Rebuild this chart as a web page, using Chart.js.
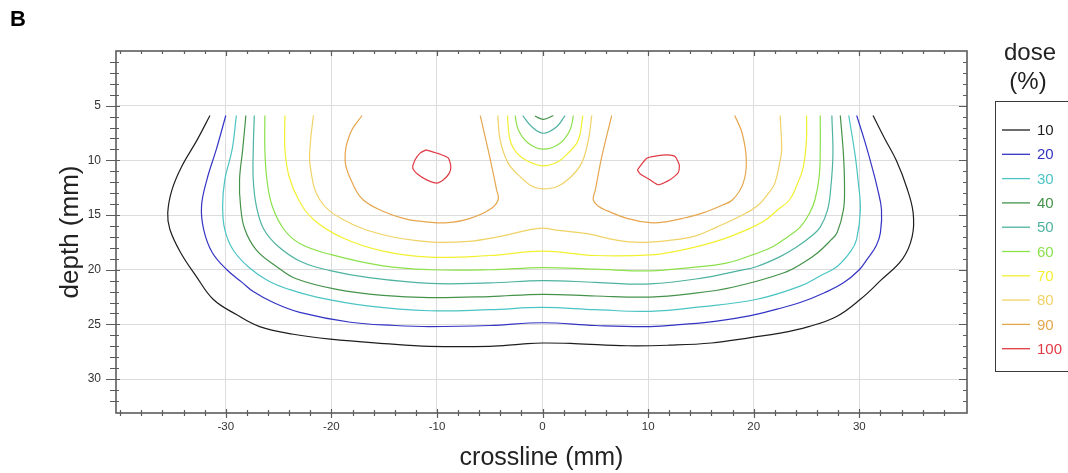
<!DOCTYPE html>
<html>
<head>
<meta charset="utf-8">
<script src="https://cdn.jsdelivr.net/npm/chart.js@4.4.1/dist/chart.umd.min.js"></script>
<style>
html,body{margin:0;padding:0;background:#fff;}
#wrap{width:1068px;height:473px;position:relative;}
</style>
</head>
<body>
<div id="wrap"><canvas id="c" width="1068" height="473"></canvas></div>
<script>
// ---- data (x = crossline mm, y = depth mm) ----
const levels = [10, 20, 30, 40, 50, 60, 70, 80, 90, 100];
const levelColors = ['#1e1e1e', '#3434c4', '#4cc4c4', '#45924a', '#4db3a0', '#8ce04c', '#f2f030', '#f0d266', '#e6a64e', '#e03a44'];
const xTickLabels = [-30, -20, -10, 0, 10, 20, 30];
const yTickLabels = [5, 10, 15, 20, 25, 30];
const legendTitle = ['dose', '(%)'];

const c10 = [[-31.5,5.9],[-32.7,8.1],[-34.2,10.6],[-35.1,12.7],[-35.5,14.8],[-35.3,16.3],[-34.3,18.4],[-32.8,20.6],[-31.2,22.7],[-29.0,24.1],[-26.8,25.2],[-23.6,25.9],[-20.1,26.35],[-15.0,26.75],[-10.7,27.0],[-5.0,27.0],[-2.0,26.8],[0,26.7],[3.0,26.75],[8.0,26.95],[12.0,26.9],[16.0,26.7],[19.7,26.2],[22.5,25.8],[25.2,25.2],[27.8,24.3],[30.1,22.7],[32.0,21.0],[34.1,19.0],[35.0,17.0],[35.1,14.8],[34.5,12.5],[33.5,10.0],[32.4,8.0],[31.3,5.9]];
const c20 = [[-30.0,5.9],[-30.9,9.0],[-31.8,11.8],[-32.3,14.2],[-32.1,16.3],[-31.3,18.4],[-29.9,20.0],[-28.4,21.2],[-27.4,22.0],[-25.5,23.0],[-23.0,23.9],[-18.2,24.8],[-14.0,25.1],[-10.7,25.2],[-5.0,25.1],[0,24.85],[5.0,25.1],[10.2,25.2],[13.3,25.0],[16.5,24.7],[19.7,24.2],[22.2,23.6],[24.4,23.0],[26.7,22.1],[28.5,21.2],[30.0,20.0],[30.7,19.1],[31.6,17.8],[32.0,16.6],[32.1,14.5],[31.7,12.5],[31.2,10.6],[30.5,8.2],[29.75,5.9]];
const c30 = [[-29.0,5.9],[-29.4,9.0],[-30.1,11.8],[-30.3,14.2],[-30.1,16.3],[-29.3,18.2],[-27.8,19.8],[-26.0,21.0],[-24.0,21.8],[-21.4,22.5],[-16.6,23.3],[-10.7,23.75],[-5.0,23.65],[0,23.45],[5.0,23.65],[10.2,23.8],[14.9,23.4],[20.3,22.7],[24.4,21.5],[26.4,20.5],[27.9,19.7],[29.2,18.3],[29.75,17.2],[30.1,14.5],[29.9,12.0],[29.6,9.5],[29.0,5.9]];
const c40 = [[-28.1,5.9],[-28.4,9.0],[-28.7,11.8],[-28.6,14.2],[-28.2,16.3],[-27.1,18.2],[-25.2,19.7],[-23.4,20.8],[-19.5,21.8],[-15.1,22.35],[-10.7,22.55],[-5.0,22.45],[0,22.25],[5.0,22.4],[10.2,22.5],[14.0,22.2],[18.0,21.6],[22.8,20.3],[24.8,19.3],[26.0,18.5],[27.3,17.3],[27.9,16.6],[28.5,14.5],[28.6,12.5],[28.5,9.5],[28.2,5.9]];
const c50 = [[-27.3,5.9],[-27.4,9.0],[-27.4,11.8],[-27.1,14.2],[-26.4,16.3],[-25.0,17.9],[-22.8,19.3],[-20.0,20.1],[-16.6,20.7],[-10.7,21.25],[-5.0,21.2],[0,21.0],[5.0,21.15],[10.2,21.3],[15.5,20.7],[18.5,20.1],[20.3,19.7],[22.5,18.8],[24.1,17.9],[25.5,16.9],[26.3,16.1],[27.0,14.5],[27.3,12.5],[27.5,9.5],[27.4,5.9]];
const c50in = [[-1.88,5.9],[-1.02,6.92],[0.08,7.52],[1.34,6.92],[2.13,5.9]];
const c40in = [[-0.71,5.95],[0.08,6.25],[1.02,5.9]];
const c60 = [[-26.3,5.9],[-26.3,9.0],[-26.1,11.8],[-25.6,14.2],[-24.5,16.3],[-23.0,17.6],[-20.1,18.6],[-15.1,19.65],[-10.7,20.0],[-5.0,20.0],[0,19.8],[5.0,19.95],[10.2,20.1],[14.0,19.8],[17.4,19.4],[20.0,18.6],[21.8,17.9],[23.2,17.0],[24.4,16.1],[25.3,14.8],[25.8,13.6],[26.2,11.5],[26.3,9.0],[26.3,5.9]];
const c60in = [[-2.6,5.9],[-2.29,7.22],[-1.34,8.43],[0.08,8.98],[1.66,8.43],[2.6,7.22],[2.92,5.9]];
const c70 = [[-24.4,5.9],[-24.4,9.0],[-24.0,11.5],[-23.1,13.6],[-21.7,15.4],[-18.9,17.1],[-15.1,18.3],[-10.7,18.85],[-5.0,18.7],[0,18.3],[5.0,18.7],[10.2,18.65],[12.7,18.3],[15.0,17.8],[17.1,17.2],[19.2,16.4],[20.9,15.6],[22.3,14.5],[23.4,13.6],[24.2,12.0],[24.7,10.6],[25.0,8.0],[25.0,5.9]];
const c70in = [[-3.33,5.9],[-3.08,8.13],[-2.44,9.32],[-1.34,10.1],[0.08,10.5],[1.5,10.1],[2.44,9.32],[3.39,8.13],[3.81,5.9]];
const c80 = [[-21.7,5.9],[-22.0,8.5],[-22.0,10.6],[-21.1,13.6],[-18.9,15.4],[-15.1,16.8],[-10.7,17.45],[-7.0,17.4],[-4.0,16.95],[-1.5,16.4],[0,16.2],[1.5,16.4],[4.2,16.7],[7.0,17.3],[9.2,17.5],[12.1,17.3],[14.5,16.9],[16.5,16.1],[18.5,15.2],[20.3,14.2],[21.4,13.0],[22.0,12.1],[22.5,10.0],[22.65,9.0],[22.5,5.9]];
const c80in = [[-4.24,5.9],[-4.02,8.13],[-3.27,10.23],[-2.02,11.59],[-0.9,12.41],[0.05,12.6],[1.34,12.41],[2.6,11.59],[3.71,10.23],[4.34,8.13],[4.66,5.9]];
const c90left = [[-17.1,5.9],[-18.2,7.5],[-18.7,10.0],[-18.0,12.1],[-17.0,13.6],[-15.0,14.7],[-13.0,15.35],[-10.7,15.65],[-9.0,15.7],[-7.0,15.35],[-5.0,14.5],[-4.2,13.6],[-4.35,12.7],[-5.0,9.7],[-5.9,5.9]];
const c90right = [[6.55,5.9],[5.6,9.7],[5.0,12.7],[4.8,13.6],[5.3,14.2],[6.1,14.6],[8.0,15.3],[10.2,15.7],[11.8,15.6],[13.5,15.25],[15.2,14.8],[17.0,14.1],[18.0,13.6],[19.0,12.1],[19.3,10.0],[18.9,7.5],[18.2,5.9]];
const c100left = [[-11.03,9.04],[-9.71,9.44],[-8.92,9.8],[-8.69,10.56],[-8.83,11.17],[-9.39,11.78],[-10.02,12.08],[-10.97,11.78],[-11.76,11.32],[-12.29,10.71],[-12.07,9.95],[-11.6,9.34],[-11.03,9.04]];
const c100right = [[8.98,10.87],[9.87,9.8],[10.81,9.59],[11.76,9.5],[12.55,9.65],[12.95,10.41],[12.86,11.11],[12.07,11.78],[10.97,12.23],[10.18,11.78],[9.23,11.23],[8.98,10.87]];

const segments = [
  [10, c10], [20, c20], [30, c30], [40, c40], [40, c40in], [50, c50], [50, c50in],
  [60, c60], [60, c60in], [70, c70], [70, c70in], [80, c80], [80, c80in],
  [90, c90left], [90, c90right], [100, c100left], [100, c100right]
];

const FONT = '"Liberation Sans", Arial, Helvetica, sans-serif';
const colorOf = lv => levelColors[levels.indexOf(lv)];

const datasets = segments.map(([lv, pts]) => ({
  label: String(lv),
  data: pts.map(p => ({x: p[0], y: p[1]})),
  borderColor: colorOf(lv),
  backgroundColor: colorOf(lv),
  borderWidth: 1.2,
  showLine: true,
  pointRadius: 0,
  pointHoverRadius: 0,
  tension: lv === 100 ? 0.2 : 0.4,
  fill: false
}));

const framePlugin = {
  id: 'frameTicks',
  afterDraw(chart) {
    const {ctx, chartArea, scales} = chart;
    const {left, right, top, bottom} = chartArea;
    const x = scales.x, y = scales.y;
    ctx.save();
    ctx.strokeStyle = '#5c5c5c';
    ctx.lineWidth = 1.6;
    ctx.strokeRect(left, top, right - left, bottom - top);
    ctx.lineWidth = 1.2;
    ctx.beginPath();
    x.ticks.forEach(t => {
      const px = Math.round(x.getPixelForValue(t.value)) + 0.5;
      if (px < left + 4 || px > right - 4) return;
      const major = xTickLabels.includes(Math.round(t.value));
      ctx.moveTo(px, bottom - (major ? 4 : 3)); ctx.lineTo(px, bottom + (major ? 5 : 3));
      ctx.moveTo(px, top); ctx.lineTo(px, top + (major ? 5 : 3));
    });
    y.ticks.forEach(t => {
      const py = Math.round(y.getPixelForValue(t.value)) + 0.5;
      if (py < top + 4 || py > bottom - 4) return;
      const major = Math.round(t.value) % 5 === 0;
      ctx.moveTo(left - (major ? 10 : 6), py); ctx.lineTo(left + (major ? 4 : 3), py);
      ctx.moveTo(right - (major ? 8 : 4), py); ctx.lineTo(right, py);
    });
    ctx.stroke();
    ctx.restore();
  }
};

const legendPlugin = {
  id: 'doseLegend',
  afterDraw(chart) {
    const {ctx, chartArea} = chart;
    const bx = chartArea.right + 28;
    const cx = bx + 34;
    ctx.save();
    ctx.fillStyle = '#222';
    ctx.textAlign = 'center';
    ctx.textBaseline = 'middle';
    ctx.font = '24px ' + FONT;
    ctx.fillText(legendTitle[0], cx + 1, chartArea.top + 2);
    ctx.fillText(legendTitle[1], cx - 1, chartArea.top + 31);
    ctx.strokeStyle = '#3a3a3a';
    ctx.lineWidth = 1;
    ctx.strokeRect(Math.round(bx) + 0.5, chartArea.top + 50.5, 110, 270);
    ctx.font = '15px ' + FONT;
    ctx.textAlign = 'left';
    levels.forEach((lv, i) => {
      const yy = chartArea.top + 79 + i * 24.3;
      ctx.strokeStyle = levelColors[i];
      ctx.lineWidth = 1.3;
      ctx.beginPath();
      ctx.moveTo(bx + 7, yy);
      ctx.lineTo(bx + 35, yy);
      ctx.stroke();
      ctx.fillStyle = levelColors[i];
      ctx.fillText(String(lv), bx + 42, yy + 1);
    });
    ctx.restore();
  }
};

new Chart(document.getElementById('c'), {
  type: 'scatter',
  data: {datasets},
  options: {
    responsive: false,
    animation: false,
    events: [],
    layout: {padding: {left: 10, right: 101, top: 0, bottom: 0}},
    plugins: {
      legend: {display: false},
      tooltip: {enabled: false},
      title: {
        display: true, text: 'B', align: 'start', color: '#000',
        font: {family: FONT, size: 22, weight: 'bold'},
        padding: {top: 7, bottom: 17.6}
      }
    },
    scales: {
      x: {
        type: 'linear', min: -40.4, max: 40.2,
        border: {display: false},
        grid: {
          color: c => (c.tick && xTickLabels.includes(Math.round(c.tick.value))) ? '#dcdcdc' : 'rgba(0,0,0,0)',
          tickColor: 'rgba(0,0,0,0)', tickLength: 5, lineWidth: 1
        },
        ticks: {
          stepSize: 2, includeBounds: false, autoSkip: false, maxRotation: 0, padding: 2,
          color: '#333', font: {family: FONT, size: 11.5},
          callback: v => xTickLabels.includes(Math.round(v)) ? String(Math.round(v)) : ''
        },
        title: {
          display: true, text: 'crossline (mm)', color: '#222',
          font: {family: FONT, size: 25}, padding: {top: 0, bottom: 0}
        },
        afterFit: s => { s.height = 60; }
      },
      y: {
        type: 'linear', reverse: true, min: 0, max: 33.1,
        border: {display: false},
        grid: {
          color: c => (c.tick && yTickLabels.includes(Math.round(c.tick.value))) ? '#dcdcdc' : 'rgba(0,0,0,0)',
          tickColor: 'rgba(0,0,0,0)', tickLength: 8, lineWidth: 1
        },
        ticks: {
          stepSize: 1, includeBounds: false, autoSkip: false, padding: 7,
          color: '#333', font: {family: FONT, size: 12},
          callback: v => yTickLabels.includes(Math.round(v)) ? String(Math.round(v)) : ''
        },
        title: {
          display: true, text: 'depth (mm)', color: '#222',
          font: {family: FONT, size: 26}, padding: {top: 45, bottom: 0}
        },
        afterFit: s => { s.width = 106; }
      }
    }
  },
  plugins: [framePlugin, legendPlugin]
});
</script>
</body>
</html>
